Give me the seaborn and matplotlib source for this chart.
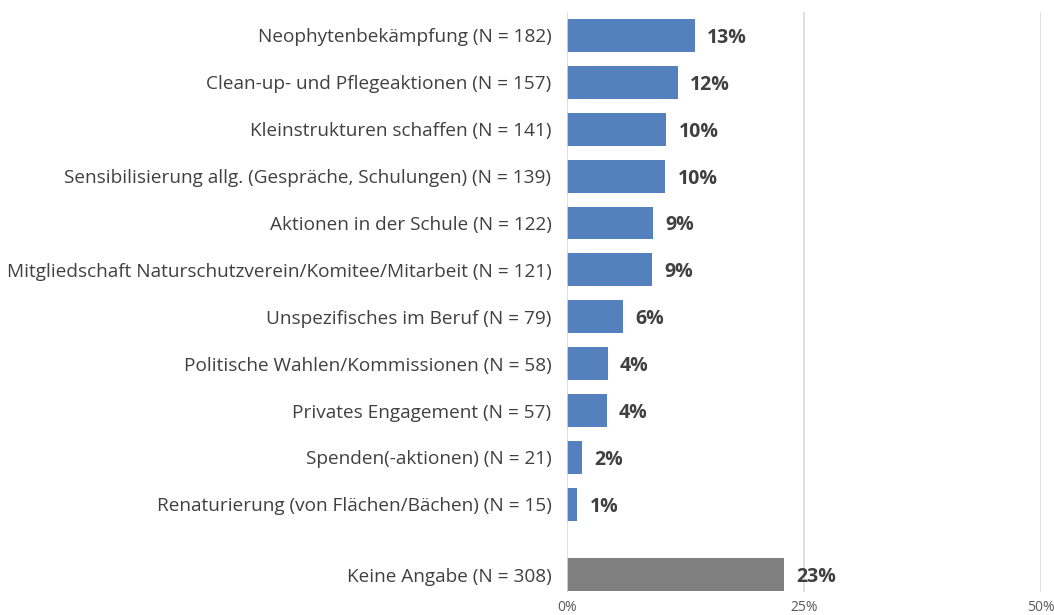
import numpy as np
import pandas as pd
import seaborn as sns
import matplotlib.pyplot as plt

categories = [
    "Neophytenbekämpfung (N = 182)",
    "Clean-up- und Pflegeaktionen (N = 157)",
    "Kleinstrukturen schaffen (N = 141)",
    "Sensibilisierung allg. (Gespräche, Schulungen) (N = 139)",
    "Aktionen in der Schule (N = 122)",
    "Mitgliedschaft Naturschutzverein/Komitee/Mitarbeit (N = 121)",
    "Unspezifisches im Beruf (N = 79)",
    "Politische Wahlen/Kommissionen (N = 58)",
    "Privates Engagement (N = 57)",
    "Spenden(-aktionen) (N = 21)",
    "Renaturierung (von Flächen/Bächen) (N = 15)",
    "Keine Angabe (N = 308)",
]
shares = [13.5, 11.7, 10.5, 10.4, 9.1, 9.0, 5.9, 4.3, 4.2, 1.6, 1.1, 22.9]
value_labels = ["13%", "12%", "10%", "10%", "9%", "9%", "6%", "4%", "4%", "2%", "1%", "23%"]
group = ["Antwort"] * 11 + ["Keine Angabe"]
row_pos = [0, 1, 2, 3, 4, 5, 6, 7, 8, 9, 10, 11.5]

df = pd.DataFrame({"cat": categories, "share": shares, "group": group, "pos": row_pos})

sns.set_theme(style="white")
plt.rcParams["font.family"] = ["Open Sans", "DejaVu Sans"]

fig = plt.figure(figsize=(10.54, 6.15), dpi=100)
ax = fig.add_axes([0.5377, 0.0374, 0.45, 0.9431])

sns.barplot(data=df, x="share", y="pos", hue="group", orient="h", native_scale=True,
            palette={"Antwort": "#5580be", "Keine Angabe": "#808080"}, saturation=1,
            width=0.7, dodge=False, legend=False, ax=ax, edgecolor="none")

ax.set_xlim(0, 50)
ax.set_ylim(11.87, -0.5)
ax.set_xticks([0, 25, 50])
ax.set_xticklabels(["0%", "25%", "50%"], fontsize=10, color="#595959")
ax.set_yticks(row_pos)
ax.set_yticklabels(categories, fontsize=13.7, color="#404040", va="center_baseline")
ax.tick_params(axis="both", length=0)
ax.tick_params(axis="x", pad=6)
ax.tick_params(axis="y", pad=11)

for xv in [25, 50]:
    ax.axvline(xv, color="#d9d9d9", lw=1.2, zorder=0)
ax.axvline(0, color="#d9d9d9", lw=1.2, zorder=3)

for p, v, t in zip(row_pos, shares, value_labels):
    ax.annotate(t, (v, p), xytext=(9, 0), textcoords="offset points",
                va="center_baseline", ha="left", fontsize=14, fontweight="bold", color="#404040")

for s in ax.spines.values():
    s.set_visible(False)
ax.set_xlabel("")
ax.set_ylabel("")

fig.savefig("out.png", dpi=100)
